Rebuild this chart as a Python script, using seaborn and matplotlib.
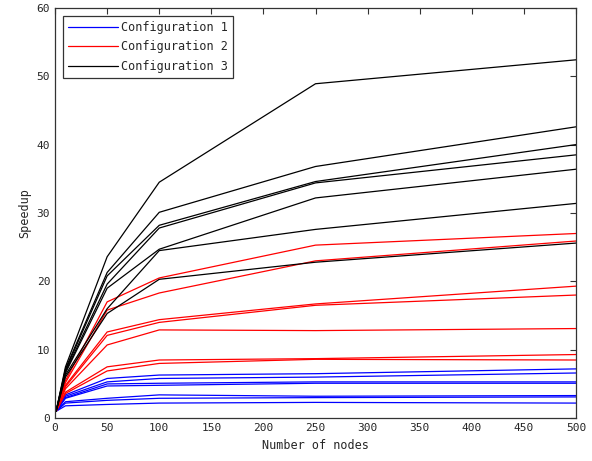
import matplotlib
matplotlib.use("Agg")
import matplotlib.pyplot as plt
import seaborn as sns
import pandas as pd

nodes = [1, 10, 50, 100, 250, 500]

config1 = [
    [1, 3.4, 5.8, 6.3, 6.5, 7.2],
    [1, 3.2, 5.3, 5.8, 6.0, 6.6],
    [1, 3.0, 5.0, 5.1, 5.3, 5.3],
    [1, 2.9, 4.7, 4.8, 5.1, 5.1],
    [1, 2.4, 2.9, 3.4, 3.2, 3.3],
    [1, 2.2, 2.6, 2.9, 3.0, 3.1],
    [1, 1.8, 2.0, 2.2, 2.3, 2.2],
]
config2 = [
    [1, 5.5, 17.0, 20.5, 25.3, 27.0],
    [1, 5.2, 15.8, 18.3, 23.0, 25.9],
    [1, 4.8, 12.6, 14.4, 16.7, 19.3],
    [1, 4.6, 12.1, 14.0, 16.5, 18.0],
    [1, 4.3, 10.7, 12.9, 12.8, 13.1],
    [1, 3.8, 7.5, 8.5, 8.7, 9.3],
    [1, 3.6, 6.9, 8.0, 8.6, 8.5],
]
config3 = [
    [1, 7.5, 23.6, 34.5, 48.9, 52.4],
    [1, 7.2, 21.3, 30.1, 36.8, 42.6],
    [1, 7.0, 20.8, 28.2, 34.6, 40.0],
    [1, 6.8, 19.6, 27.8, 34.4, 38.5],
    [1, 6.6, 19.0, 24.7, 32.2, 36.4],
    [1, 6.3, 16.0, 24.5, 27.6, 31.4],
    [1, 6.0, 15.3, 20.3, 22.8, 25.6],
]
labels = ["Configuration 1", "Configuration 2", "Configuration 3"]
colors = ["#0000ff", "#ff0000", "#000000"]

rows = []
for label, runs in zip(labels, [config1, config2, config3]):
    for i, run in enumerate(runs):
        for n, s in zip(nodes, run):
            rows.append({"nodes": n, "speedup": s, "config": label, "run": f"{label}-{i}"})
df = pd.DataFrame(rows)

sns.set_style("white")
plt.rcParams["font.family"] = ["DejaVu Sans Mono", "DejaVu Sans"]

fig = plt.figure(figsize=(5.92, 4.61), dpi=100)
ax = fig.add_axes([0.093, 0.093, 0.880, 0.890])

sns.lineplot(data=df, x="nodes", y="speedup", hue="config", units="run",
             estimator=None, palette=dict(zip(labels, colors)), linewidth=0.9,
             ax=ax, legend=True)

ax.set_xlim(0, 500)
ax.set_ylim(0, 60)
ax.set_xticks(range(0, 501, 50))
ax.set_yticks(range(0, 61, 10))
ax.tick_params(direction="in", length=4, top=True, right=True, labelsize=8,
               color="#333333", width=0.8)
for sp in ax.spines.values():
    sp.set_color("#333333")
    sp.set_linewidth(0.9)
ax.set_xlabel("Number of nodes", fontsize=8.5)
ax.set_ylabel("Speedup", fontsize=8.5)

leg = ax.legend(loc="upper left", fontsize=8.5, frameon=True, fancybox=False,
                edgecolor="black", borderaxespad=0.65, handlelength=4.2,
                handletextpad=0.3, labelspacing=0.55, borderpad=0.45)
leg.get_frame().set_linewidth(0.9)

fig.savefig("out.png", dpi=100)
